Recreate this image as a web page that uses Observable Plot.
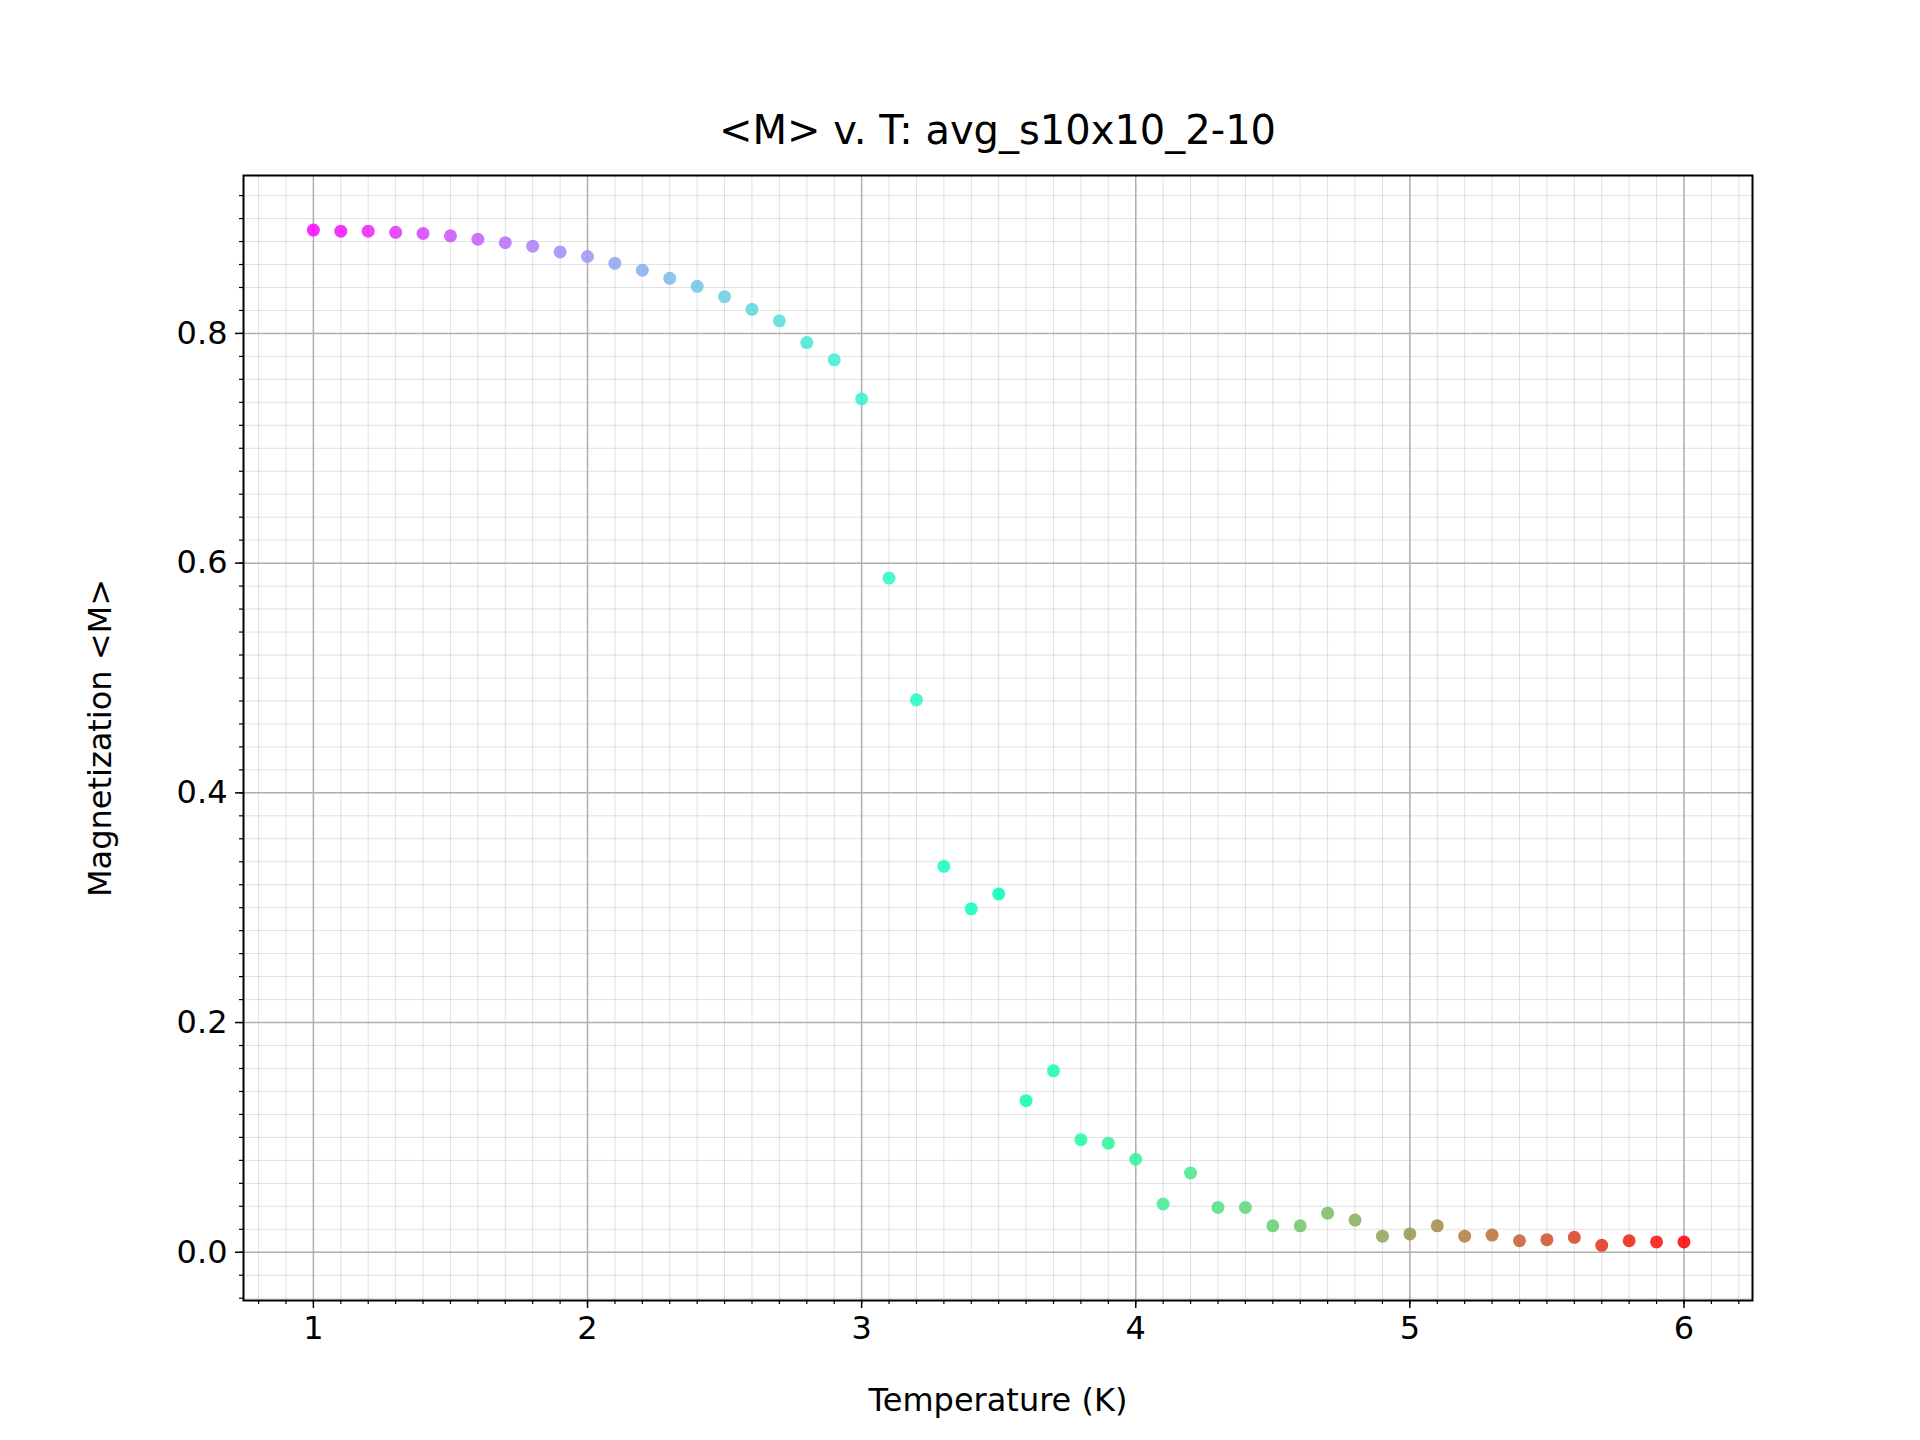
<!DOCTYPE html>
<html>
<head>
<meta charset="utf-8">
<script src="https://cdn.jsdelivr.net/npm/d3@7"></script>
<script src="https://cdn.jsdelivr.net/npm/@observablehq/plot@0.6"></script>
<style>
  body { margin: 0; background: #fff; font-family: "DejaVu Sans", sans-serif; }
  #title { height: 160px; width: 1920px; box-sizing: border-box; padding-top: 108px; padding-left: 75px;
           text-align: center; font-size: 40px; line-height: 44px; }
</style>
</head>
<body>
<div id="title">&lt;M&gt; v. T: avg_s10x10_2-10</div>
<div id="chart"></div>
<script>
const temps = [1.0,1.1,1.2,1.3,1.4,1.5,1.6,1.7,1.8,1.9,2.0,2.1,2.2,2.3,2.4,2.5,2.6,2.7,2.8,2.9,
  3.0,3.1,3.2,3.3,3.4,3.5,3.6,3.7,3.8,3.9,4.0,4.1,4.2,4.3,4.4,4.5,4.6,4.7,4.8,4.9,
  5.0,5.1,5.2,5.3,5.4,5.5,5.6,5.7,5.8,5.9,6.0];
const magnet = [0.890,0.889,0.889,0.888,0.887,0.885,0.882,0.879,0.876,0.871,0.867,0.861,0.855,0.848,0.841,0.832,0.821,0.811,0.792,0.777,
  0.743,0.587,0.481,0.336,0.299,0.312,0.132,0.158,0.098,0.095,0.081,0.042,0.069,0.039,0.039,0.023,0.023,0.034,0.028,0.014,
  0.016,0.023,0.014,0.015,0.010,0.011,0.013,0.006,0.010,0.009,0.009];
const xMajor = [1, 2, 3, 4, 5, 6];
const yMajor = [0, 0.2, 0.4, 0.6, 0.8];

// matplotlib "rainbow"
const rainbow = x => d3.rgb(255 * Math.abs(2 * x - 1), 255 * Math.sin(Math.PI * x), 255 * Math.cos(Math.PI * x / 2)).formatHex();

const data = temps.map((t, i) => ({T: t, M: magnet[i], c: rainbow(i / (temps.length - 1))}));
const xMinor = d3.range(8, 63).map(d => d / 10);
const yMinor = d3.range(-2, 47).map(d => d / 50);

const plot = Plot.plot({
  width: 1920,
  height: 1280,
  marginTop: 15,
  marginBottom: 140,
  marginLeft: 243,
  marginRight: 168,
  style: { fontFamily: "DejaVu Sans, sans-serif", fontSize: "32px", color: "#000" },
  x: { domain: [0.745, 6.25], axis: null },
  y: { domain: [-0.042, 0.9375], axis: null },
  marks: [
    Plot.ruleX(xMinor, { stroke: "#000", strokeOpacity: 0.12, strokeWidth: 1 }),
    Plot.ruleY(yMinor, { stroke: "#000", strokeOpacity: 0.12, strokeWidth: 1 }),
    Plot.ruleX(xMajor, { stroke: "#b0b0b0", strokeWidth: 1.5 }),
    Plot.ruleY(yMajor, { stroke: "#b0b0b0", strokeWidth: 1.5 }),
    Plot.axisX(xMinor, { tickSize: 4, text: null, label: null, strokeWidth: 1.2 }),
    Plot.axisY(yMinor, { tickSize: 4, text: null, label: null, strokeWidth: 1.2 }),
    Plot.axisX(xMajor, { tickSize: 8, tickPadding: 8, strokeWidth: 1.5, fontSize: 32, tickFormat: d3.format("d"),
      label: "Temperature (K)", labelAnchor: "center", labelOffset: 110, labelArrow: "none" }),
    Plot.axisY(yMajor, { tickSize: 8, tickPadding: 8, strokeWidth: 1.5, fontSize: 32, tickFormat: d3.format(".1f"),
      label: "Magnetization <M>", labelAnchor: "center", labelOffset: 155, labelArrow: "none" }),
    Plot.dot(data, { x: "T", y: "M", fill: "c", r: 6.5, fillOpacity: 0.85 }),
    Plot.frame({ stroke: "#000", strokeWidth: 2 })
  ]
});
document.getElementById("chart").append(plot);
</script>
</body>
</html>
